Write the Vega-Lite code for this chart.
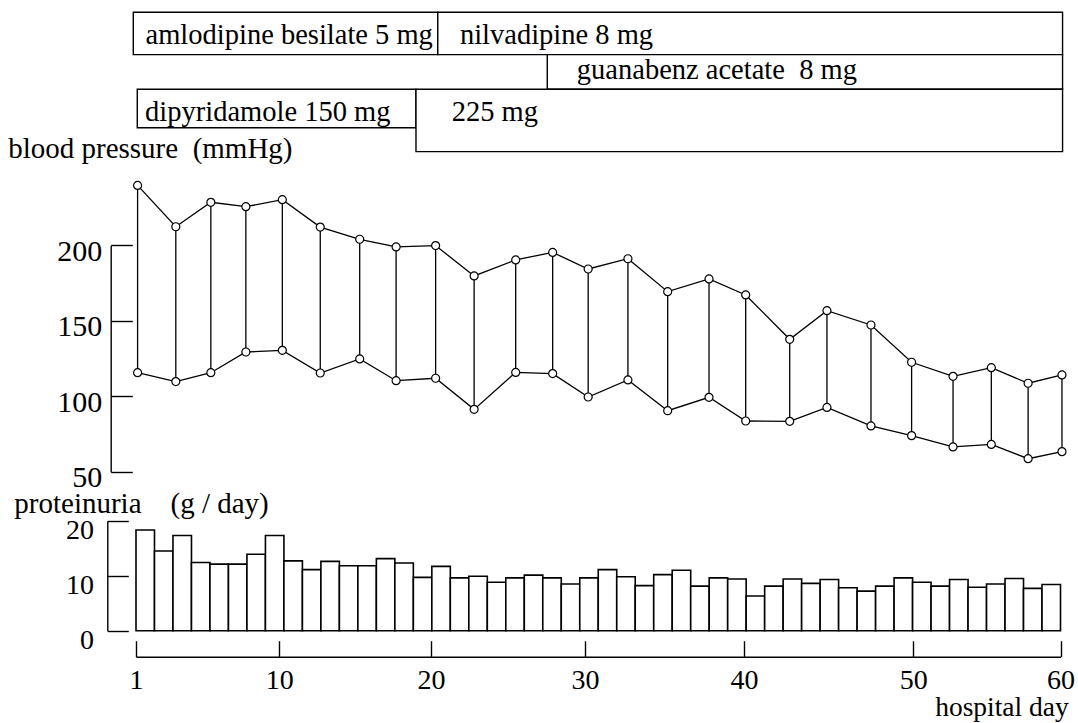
{
  "$schema": "https://vega.github.io/schema/vega-lite/v6.json",
  "width": 1078,
  "height": 723,
  "autosize": {"type": "none"},
  "padding": 0,
  "background": "white",
  "config": {"view": {"stroke": null}, "font": "Liberation Serif"},
  "datasets": {
    "drugs": [
      {"label": "amlodipine besilate 5 mg", "start": 0.83, "end": 20.44, "top": 0, "bottom": 1.1, "lx": 1.6, "ly": 0.82},
      {"label": "nilvadipine 8 mg", "start": 20.44, "end": 60.14, "top": 0, "bottom": 1.1, "lx": 21.88, "ly": 0.82},
      {"label": "guanabenz acetate\u00a0 8 mg", "start": 27.55, "end": 60.14, "top": 1.1, "bottom": 2.0, "lx": 29.47, "ly": 1.73},
      {"label": "dipyridamole 150 mg", "start": 1.08, "end": 19.01, "top": 2.0, "bottom": 3.0, "lx": 1.57, "ly": 2.82},
      {"label": "225 mg", "start": 19.01, "end": 60.14, "top": 2.0, "bottom": 3.62, "lx": 21.34, "ly": 2.82}
    ],
    "bp": [
      {"day": 1.1, "sbp": 239.7, "dbp": 115.6},
      {"day": 3.5, "sbp": 212.3, "dbp": 109.7},
      {"day": 5.7, "sbp": 228.5, "dbp": 115.6},
      {"day": 7.9, "sbp": 225.6, "dbp": 129.3},
      {"day": 10.2, "sbp": 230.2, "dbp": 130.4},
      {"day": 12.7, "sbp": 212.1, "dbp": 115.4},
      {"day": 15.3, "sbp": 204.0, "dbp": 124.7},
      {"day": 17.7, "sbp": 198.9, "dbp": 110.3},
      {"day": 20.3, "sbp": 199.8, "dbp": 111.9},
      {"day": 22.8, "sbp": 179.7, "dbp": 91.3},
      {"day": 25.5, "sbp": 190.3, "dbp": 115.8},
      {"day": 27.9, "sbp": 195.3, "dbp": 115.0},
      {"day": 30.2, "sbp": 184.3, "dbp": 99.5},
      {"day": 32.7, "sbp": 191.1, "dbp": 110.8},
      {"day": 35.2, "sbp": 169.3, "dbp": 90.4},
      {"day": 37.8, "sbp": 177.7, "dbp": 99.3},
      {"day": 40.1, "sbp": 167.1, "dbp": 83.6},
      {"day": 42.7, "sbp": 137.7, "dbp": 83.4},
      {"day": 44.9, "sbp": 156.7, "dbp": 92.6},
      {"day": 47.5, "sbp": 147.2, "dbp": 80.3},
      {"day": 49.9, "sbp": 122.5, "dbp": 73.9},
      {"day": 52.7, "sbp": 113.2, "dbp": 66.4},
      {"day": 55.3, "sbp": 118.9, "dbp": 68.1},
      {"day": 57.8, "sbp": 108.6, "dbp": 58.6},
      {"day": 60.1, "sbp": 114.1, "dbp": 63.3}
    ],
    "protein": [
      {"bar": 1, "protein": 18.3}, {"bar": 2, "protein": 14.5}, {"bar": 3, "protein": 17.3},
      {"bar": 4, "protein": 12.4}, {"bar": 5, "protein": 12.1}, {"bar": 6, "protein": 12.1},
      {"bar": 7, "protein": 13.9}, {"bar": 8, "protein": 17.3}, {"bar": 9, "protein": 12.7},
      {"bar": 10, "protein": 11.1}, {"bar": 11, "protein": 12.6}, {"bar": 12, "protein": 11.8},
      {"bar": 13, "protein": 11.8}, {"bar": 14, "protein": 13.1}, {"bar": 15, "protein": 12.3},
      {"bar": 16, "protein": 9.7}, {"bar": 17, "protein": 11.7}, {"bar": 18, "protein": 9.6},
      {"bar": 19, "protein": 9.9}, {"bar": 20, "protein": 8.8}, {"bar": 21, "protein": 9.6},
      {"bar": 22, "protein": 10.1}, {"bar": 23, "protein": 9.6}, {"bar": 24, "protein": 8.5},
      {"bar": 25, "protein": 9.6}, {"bar": 26, "protein": 11.1}, {"bar": 27, "protein": 9.8},
      {"bar": 28, "protein": 8.2}, {"bar": 29, "protein": 10.2}, {"bar": 30, "protein": 11.0},
      {"bar": 31, "protein": 8.1}, {"bar": 32, "protein": 9.6}, {"bar": 33, "protein": 9.4},
      {"bar": 34, "protein": 6.3}, {"bar": 35, "protein": 8.1}, {"bar": 36, "protein": 9.4},
      {"bar": 37, "protein": 8.6}, {"bar": 38, "protein": 9.3}, {"bar": 39, "protein": 7.8},
      {"bar": 40, "protein": 7.2}, {"bar": 41, "protein": 8.1}, {"bar": 42, "protein": 9.6},
      {"bar": 43, "protein": 8.8}, {"bar": 44, "protein": 8.1}, {"bar": 45, "protein": 9.3},
      {"bar": 46, "protein": 7.9}, {"bar": 47, "protein": 8.5}, {"bar": 48, "protein": 9.5},
      {"bar": 49, "protein": 7.7}, {"bar": 50, "protein": 8.4}
    ]
  },
  "layer": [
    {
      "data": {"name": "drugs"},
      "layer": [
        {
          "mark": {"type": "rect", "fill": "white", "stroke": "black", "strokeWidth": 1.4},
          "encoding": {
            "x": {"field": "start", "type": "quantitative", "scale": {"type": "linear", "domain": [1, 10, 20, 30, 40, 50, 60], "range": [136, 279.3, 431, 585, 744, 913.3, 1060.5], "nice": false, "zero": false}, "axis": null},
            "x2": {"field": "end"},
            "y": {"field": "top", "type": "quantitative", "scale": {"domain": [0, 4], "range": [12.3, 166.3], "nice": false, "zero": false}, "axis": null},
            "y2": {"field": "bottom"}
          }
        },
        {
          "mark": {"type": "text", "align": "left", "baseline": "alphabetic", "font": "Liberation Serif", "fontSize": 28.5, "color": "black"},
          "encoding": {
            "x": {"field": "lx", "type": "quantitative", "scale": {"type": "linear", "domain": [1, 10, 20, 30, 40, 50, 60], "range": [136, 279.3, 431, 585, 744, 913.3, 1060.5], "nice": false, "zero": false}, "axis": null},
            "y": {"field": "ly", "type": "quantitative", "scale": {"domain": [0, 4], "range": [12.3, 166.3], "nice": false, "zero": false}, "axis": null},
            "text": {"field": "label"}
          }
        }
      ]
    },
    {
      "data": {"name": "bp"},
      "encoding": {
        "x": {
          "field": "day", "type": "quantitative",
          "scale": {"type": "linear", "domain": [1, 10, 20, 30, 40, 50, 60], "range": [136, 279.3, 431, 585, 744, 913.3, 1060.5], "nice": false, "zero": false},
          "axis": {
            "orient": "bottom", "offset": -66.3, "values": [1, 10, 20, 30, 40, 50, 60],
            "tickSize": -16, "labelPadding": 26, "labelBaseline": "top",
            "labelFont": "Liberation Serif", "labelFontSize": 28, "labelColor": "black",
            "labelFlush": false, "labelOverlap": false,
            "domainColor": "black", "tickColor": "black", "domainWidth": 1.4, "tickWidth": 1.4, "grid": false,
            "title": "hospital day", "titleX": 1068.3, "titleY": 59, "titleAlign": "right", "titleBaseline": "alphabetic",
            "titleFont": "Liberation Serif", "titleFontSize": 27.5, "titleFontWeight": "normal", "titleColor": "black", "titleAngle": 0
          }
        }
      },
      "layer": [
        {
          "mark": {"type": "rule", "color": "black", "strokeWidth": 1.3},
          "encoding": {
            "y": {
              "field": "sbp", "type": "quantitative", "title": "blood pressure\u00a0 (mmHg)",
              "scale": {"domain": [50, 200], "range": [471.7, 245.3], "nice": false, "zero": false},
              "axis": {
                "orient": "left", "offset": -110.7, "values": [50, 100, 150, 200],
                "tickSize": -21.6, "labelPadding": 30.6, "labelBaseline": "middle", "labelOffset": 6,
                "labelFont": "Liberation Serif", "labelFontSize": 30, "labelColor": "black",
                "labelFlush": false, "labelOverlap": false,
                "domainColor": "black", "tickColor": "black", "domainWidth": 1.4, "tickWidth": 1.4, "grid": false,
                "title": "blood pressure\u00a0 (mmHg)", "titleX": -103, "titleY": 157, "titleAngle": 0,
                "titleAlign": "left", "titleBaseline": "alphabetic",
                "titleFont": "Liberation Serif", "titleFontSize": 29, "titleFontWeight": "normal", "titleColor": "black"
              }
            },
            "y2": {"field": "dbp"}
          }
        },
        {
          "mark": {"type": "line", "color": "black", "strokeWidth": 1.3},
          "encoding": {
            "y": {"field": "sbp", "type": "quantitative", "title": "blood pressure\u00a0 (mmHg)", "scale": {"domain": [50, 200], "range": [471.7, 245.3], "nice": false, "zero": false}}
          }
        },
        {
          "mark": {"type": "line", "color": "black", "strokeWidth": 1.3},
          "encoding": {
            "y": {"field": "dbp", "type": "quantitative", "title": "blood pressure\u00a0 (mmHg)", "scale": {"domain": [50, 200], "range": [471.7, 245.3], "nice": false, "zero": false}}
          }
        },
        {
          "mark": {"type": "point", "shape": "circle", "filled": true, "fill": "white", "stroke": "black", "strokeWidth": 1.2, "size": 64, "opacity": 1},
          "encoding": {
            "y": {"field": "sbp", "type": "quantitative", "title": "blood pressure\u00a0 (mmHg)", "scale": {"domain": [50, 200], "range": [471.7, 245.3], "nice": false, "zero": false}}
          }
        },
        {
          "mark": {"type": "point", "shape": "circle", "filled": true, "fill": "white", "stroke": "black", "strokeWidth": 1.2, "size": 64, "opacity": 1},
          "encoding": {
            "y": {"field": "dbp", "type": "quantitative", "title": "blood pressure\u00a0 (mmHg)", "scale": {"domain": [50, 200], "range": [471.7, 245.3], "nice": false, "zero": false}}
          }
        }
      ]
    },
    {
      "data": {"name": "protein"},
      "mark": {"type": "bar", "fill": "white", "stroke": "black", "strokeWidth": 1.6},
      "encoding": {
        "x": {"field": "bar", "type": "ordinal", "scale": {"type": "band", "range": [136, 1060.5], "paddingInner": 0, "paddingOuter": 0}, "axis": null},
        "y": {
          "field": "protein", "type": "quantitative",
          "scale": {"domain": [0, 20], "range": [630.7, 520.7], "nice": false, "zero": true},
          "axis": {
            "orient": "left", "offset": -107.3, "values": [0, 10, 20],
            "tickSize": -21, "labelPadding": 34.7, "labelBaseline": "middle", "labelOffset": 10,
            "labelFont": "Liberation Serif", "labelFontSize": 28, "labelColor": "black",
            "labelFlush": false, "labelOverlap": false,
            "domainColor": "black", "tickColor": "black", "domainWidth": 1.4, "tickWidth": 1.4, "grid": false,
            "title": "proteinuria\u00a0\u00a0\u00a0\u00a0(g / day)", "titleX": -93.5, "titleY": 512, "titleAngle": 0,
            "titleAlign": "left", "titleBaseline": "alphabetic",
            "titleFont": "Liberation Serif", "titleFontSize": 29, "titleFontWeight": "normal", "titleColor": "black"
          }
        }
      }
    }
  ],
  "resolve": {"scale": {"x": "independent", "y": "independent"}, "axis": {"x": "independent", "y": "independent"}}
}
